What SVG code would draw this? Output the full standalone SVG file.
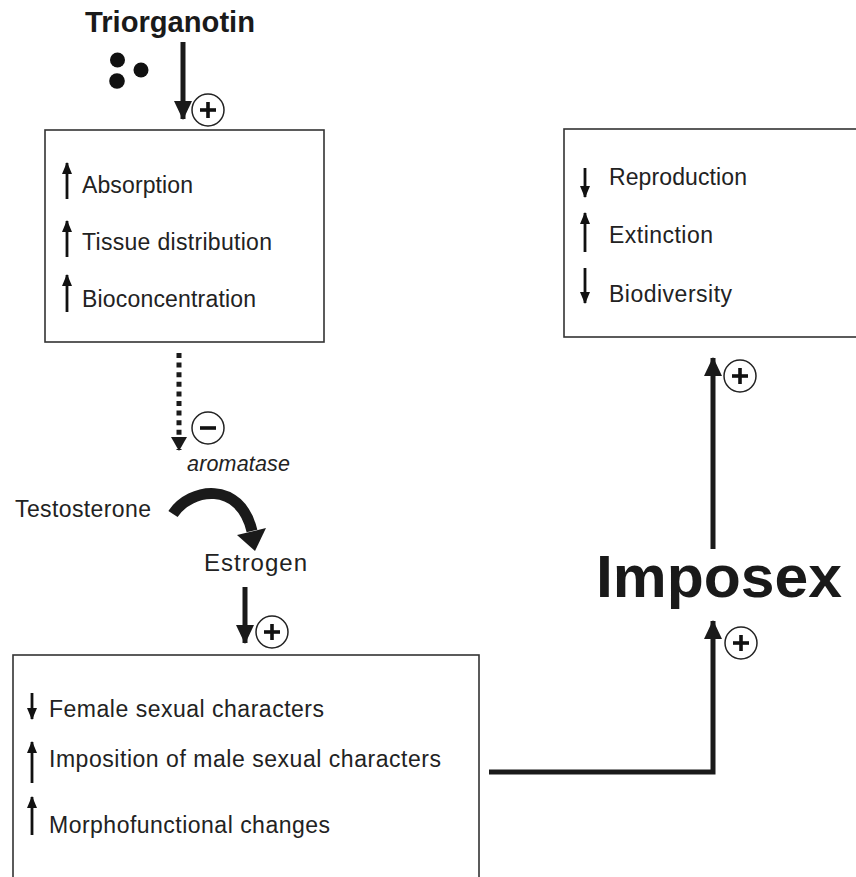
<svg xmlns="http://www.w3.org/2000/svg" xmlns:xlink="http://www.w3.org/1999/xlink" width="856" height="877" viewBox="0 0 856 877">
<style>
.box{fill:#fff;stroke:#333;stroke-width:1.6}
.t{font-family:"Liberation Sans",Arial,sans-serif;font-size:23px;fill:#222}
.it{font-style:italic}
.b{font-weight:bold;fill:#1a1a1a}
.sa{stroke:#111;stroke-width:2.8;fill:none;marker-end:url(#sh)}
.ba{stroke:#1a1a1a;stroke-width:5;fill:none}
.sign{fill:#fff;stroke:#222;stroke-width:1.5}
.bar{stroke:#111;stroke-width:3.6}
</style>
<defs>
<marker id="sh" markerUnits="userSpaceOnUse" markerWidth="12" markerHeight="10" refX="11" refY="5" orient="auto"><path d="M0,0 L12,5 L0,10 z" fill="#111"/></marker>
<marker id="bh" markerUnits="userSpaceOnUse" markerWidth="19" markerHeight="18" refX="18" refY="9" orient="auto"><path d="M0,0 L19,9 L0,18 z" fill="#1a1a1a"/></marker>
<marker id="dh" markerUnits="userSpaceOnUse" markerWidth="14" markerHeight="16" refX="13" refY="8" orient="auto"><path d="M0,0 L14,8 L0,16 z" fill="#1a1a1a"/></marker>
<g id="plus"><circle class="sign" r="16"/><line class="bar" x1="-8" y1="0" x2="8" y2="0"/><line class="bar" x1="0" y1="-8" x2="0" y2="8"/></g>
<g id="minus"><circle class="sign" r="16"/><line class="bar" x1="-8" y1="0" x2="8" y2="0"/></g>
</defs>
<rect width="856" height="877" fill="#fff"/>

<g id="triorganotin">
<text class="t b" x="85" y="32" textLength="170" lengthAdjust="spacingAndGlyphs" style="font-size:29.5px">Triorganotin</text>
<circle cx="117.5" cy="60" r="7.5" fill="#111"/>
<circle cx="141" cy="70" r="7.5" fill="#111"/>
<circle cx="117" cy="81" r="7.8" fill="#111"/>
</g>

<g id="box-uptake">
<rect class="box" x="45" y="130" width="279" height="212"/>
<line class="sa" x1="67" y1="199" x2="67" y2="163"/>
<text class="t" x="82" y="193" textLength="111" lengthAdjust="spacing">Absorption</text>
<line class="sa" x1="67" y1="257" x2="67" y2="221"/>
<text class="t" x="82" y="250" textLength="190" lengthAdjust="spacing">Tissue distribution</text>
<line class="sa" x1="67" y1="312" x2="67" y2="275"/>
<text class="t" x="82" y="307" textLength="174" lengthAdjust="spacing">Bioconcentration</text>
</g>

<g id="aromatase">
<text class="t it" x="187" y="471" textLength="103" lengthAdjust="spacing" style="font-size:21.5px">aromatase</text>
</g>
<g id="testosterone">
<text class="t" x="15" y="517" textLength="136" lengthAdjust="spacing">Testosterone</text>
</g>
<g id="estrogen">
<text class="t" x="204" y="571" textLength="103" lengthAdjust="spacing" style="font-size:24px">Estrogen</text>
</g>

<g id="box-effects">
<rect class="box" x="13" y="655" width="466" height="240"/>
<line class="sa" x1="32" y1="693" x2="32" y2="719"/>
<text class="t" x="49" y="717" textLength="275" lengthAdjust="spacing">Female sexual characters</text>
<line class="sa" x1="32" y1="783" x2="32" y2="742"/>
<text class="t" x="49" y="767" textLength="392" lengthAdjust="spacing">Imposition of male sexual characters</text>
<line class="sa" x1="32" y1="835" x2="32" y2="797"/>
<text class="t" x="49" y="833" textLength="281" lengthAdjust="spacing">Morphofunctional changes</text>
</g>

<g id="imposex">
<text class="t b" x="596" y="597" textLength="246" lengthAdjust="spacingAndGlyphs" style="font-size:60px">Imposex</text>
</g>

<g id="box-population">
<rect class="box" x="564" y="129" width="310" height="208"/>
<line class="sa" x1="585" y1="168" x2="585" y2="197"/>
<text class="t" x="609" y="185" textLength="138" lengthAdjust="spacing">Reproduction</text>
<line class="sa" x1="585" y1="252" x2="585" y2="213"/>
<text class="t" x="609" y="243" textLength="104" lengthAdjust="spacing">Extinction</text>
<line class="sa" x1="585" y1="268" x2="585" y2="303"/>
<text class="t" x="609" y="302" textLength="123" lengthAdjust="spacing">Biodiversity</text>
</g>

<g id="connectors">
<line class="ba" x1="183" y1="42" x2="183" y2="119" marker-end="url(#bh)"/>
<use xlink:href="#plus" href="#plus" x="208" y="110"/>
<line x1="179" y1="353" x2="179" y2="450" stroke="#1a1a1a" stroke-width="5" stroke-dasharray="5 4.6" marker-end="url(#dh)"/>
<use xlink:href="#minus" href="#minus" x="208" y="428"/>
<path d="M173,514 C190,488 240,480 252,531" fill="none" stroke="#1a1a1a" stroke-width="11"/>
<polygon points="237,535 266,528 255,551" fill="#1a1a1a"/>
<line class="ba" x1="245" y1="587" x2="245" y2="643" marker-end="url(#bh)"/>
<use xlink:href="#plus" href="#plus" x="272" y="632"/>
<polyline class="ba" points="489,772 713,772 713,621" marker-end="url(#bh)"/>
<use xlink:href="#plus" href="#plus" x="741" y="643"/>
<line class="ba" x1="713" y1="549" x2="713" y2="358" marker-end="url(#bh)"/>
<use xlink:href="#plus" href="#plus" x="740" y="376"/>
</g>
</svg>
